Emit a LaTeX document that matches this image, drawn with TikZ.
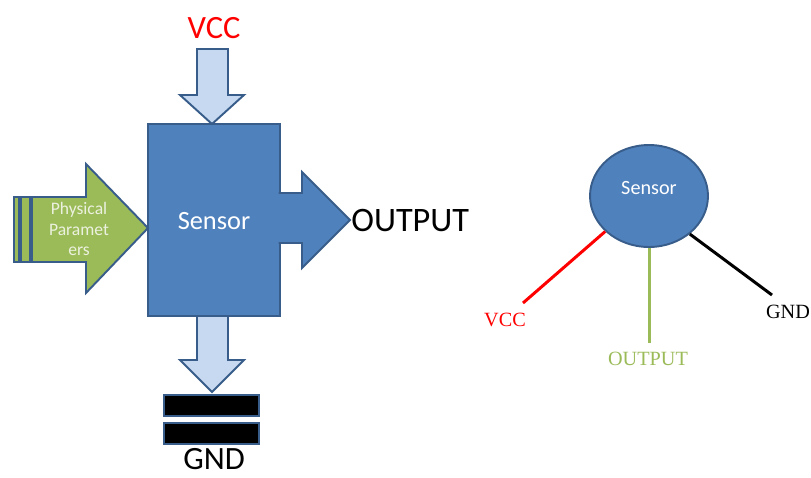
\documentclass[tikz,border=0pt]{standalone}
\usepackage{fontspec}
\setmainfont{Carlito}
\newfontfamily\serifface{Liberation Serif}
\usetikzlibrary{shapes.geometric}
\definecolor{boxblue}{HTML}{4F81BD}
\definecolor{edgeblue}{HTML}{385D8A}
\definecolor{paleblue}{HTML}{C6D9F1}
\definecolor{leafgreen}{HTML}{9BBB59}
\definecolor{palegreen}{HTML}{EBF1DE}
\tikzset{blockarrow/.style={draw=edgeblue,line width=1.1pt,line join=miter}}
\begin{document}
\begin{tikzpicture}[x=0.02cm,y=-0.02cm]
		\useasboundingbox (0,0) rectangle (811,477);
		
		% block view
		\draw[blockarrow,fill=boxblue] (148,124) rectangle (280,316);
		\node[text=white,font=\fontsize{15}{18}\selectfont] (sens) at (214,221) {Sensor};
		\draw[blockarrow,fill=boxblue] (278.5,193) -- (302,193) -- (302,172) -- (350,220) -- (302,268) -- (302,243) -- (278.5,243);
		\draw[blockarrow,fill=paleblue] (197,49) -- (228,49) -- (228,95) -- (244,95) -- (212,124) -- (180,95) -- (197,95) -- cycle;
		\draw[blockarrow,fill=paleblue] (197,316) -- (228,316) -- (228,360) -- (244,360) -- (212,392) -- (180,360) -- (197,360) -- cycle;
		\draw[blockarrow,fill=black] (164,395) rectangle (259,416);
		\draw[blockarrow,fill=black] (164,423) rectangle (259,444);
		
		\draw[blockarrow,fill=leafgreen] (14,197) rectangle (19,262);
		\draw[blockarrow,fill=leafgreen] (21,197) rectangle (30,262);
		\draw[blockarrow,fill=leafgreen] (32,197) -- (86,197) -- (86,164) -- (148,228) -- (86,293) -- (86,262) -- (32,262) -- cycle;
		\node[text=palegreen,align=center,font=\fontsize{10}{11.9}\selectfont] (phys) at (79,229) {Physical\\Paramet\\ers};
		
		\node[text=red,font=\fontsize{18.5}{22}\selectfont] (vcc) at (214,28) {VCC};
		\node[inner sep=0pt,font=\fontsize{18.5}{22}\selectfont] (gnd) at (214,459) {GND};
		\node[anchor=west,inner sep=0pt,font=\fontsize{19.5}{23}\selectfont] (out) at (351,221) {OUTPUT};
		
		% pin view
		\node[ellipse,draw=edgeblue,line width=1.1pt,fill=boxblue,minimum width=2.36cm,minimum height=2.04cm] (circ) at (649,196) {};
		\node[text=white,font=\fontsize{11.5}{14}\selectfont] (circtext) at (649,188) {Sensor};
		\coordinate (vccend) at (523,303);
		\coordinate (outend) at (649,343);
		\coordinate (gndend) at (772,295);
		\draw[red,line width=1.7pt] (circ.219) -- (vccend);
		\draw[leafgreen,line width=1.7pt] (circ.south) -- (outend);
		\draw[black,line width=1.7pt] (circ.-43) -- (gndend);
		\node[text=red,font=\serifface\fontsize{11.5}{14}\selectfont] (vccpin) at (505,320) {VCC};
		\node[text=leafgreen,font=\serifface\fontsize{11.5}{14}\selectfont] (outpin) at (648,359) {OUTPUT};
		\node[font=\serifface\fontsize{11.5}{14}\selectfont] (gndpin) at (788,312) {GND};
\end{tikzpicture}
\end{document}
